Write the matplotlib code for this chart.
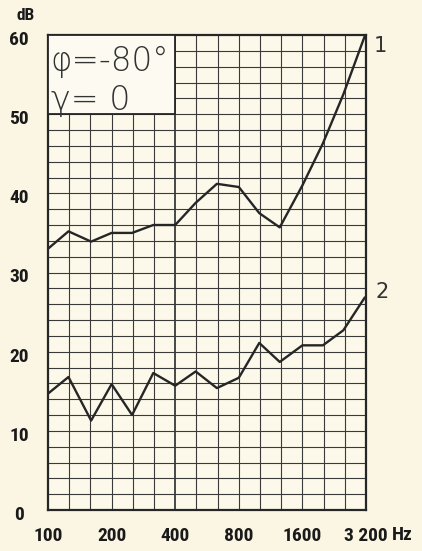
import matplotlib
matplotlib.use('Agg')
import matplotlib.pyplot as plt
from matplotlib import font_manager
from matplotlib.patches import Rectangle
from matplotlib.transforms import ScaledTranslation

# third-octave band centres, Hz
freqs = [100, 125, 160, 200, 250, 315, 400, 500, 630, 800, 1000, 1250, 1600, 2000, 2500, 3150]
curve1 = [33.0, 35.2, 33.9, 35.0, 35.0, 36.0, 36.0, 38.8, 41.2, 40.8, 37.5, 35.7, 41.0, 46.3, 52.5, 59.8]
curve2 = [14.7, 16.8, 11.3, 15.9, 12.0, 17.3, 15.7, 17.5, 15.4, 16.7, 21.1, 18.7, 20.8, 20.8, 22.7, 26.8]
octave_ticks = [100, 200, 400, 800, 1600, 3200]
octave_labels = ['100', '200', '400', '800', '1600', '3 200']
db_ticks = [0, 10, 20, 30, 40, 50, 60]

bg = '#fbf6e3'
ink = '#262626'

# pick a narrow bold face for the numbers if one is installed
names = {f.name for f in font_manager.fontManager.ttflist}
narrow = 'DejaVu Sans'
for cand in ['Liberation Sans Narrow', 'Roboto Condensed', 'Arial Narrow', 'Open Sans Condensed']:
    if cand in names:
        narrow = cand
        break
tickfont = {'family': [narrow, 'DejaVu Sans'], 'weight': 'bold', 'stretch': 'condensed',
            'size': 14 if narrow != 'DejaVu Sans' else 10.5}

fig = plt.figure(figsize=(4.22, 5.51), dpi=100, facecolor=bg)
ax = fig.add_axes([48/422, 41/551, 318/422, 475/551])
ax.set_facecolor('#fcf9ea')

ax.set_xscale('log', base=2)
ax.set_xlim(100, 3200)
ax.set_ylim(0, 60)

# grid: every third octave, every 2 dB
grid_col = '#3a3a3a'
for k in range(1, 15):
    f = 100 * 2 ** (k / 3)
    lw = 1.3 if k == 6 else 0.8
    ax.axvline(f, color=grid_col, lw=lw, zorder=1)
for d in range(2, 60, 2):
    ax.axhline(d, color=grid_col, lw=0.8, zorder=1)

ax.set_xticks(octave_ticks)
ax.set_xticklabels(octave_labels, fontdict=tickfont)
ax.xaxis.set_minor_locator(matplotlib.ticker.NullLocator())
ax.set_yticks(db_ticks)
ax.set_yticklabels([str(v) for v in db_ticks], fontdict=tickfont)
ax.tick_params(length=0, pad=12, colors='#1a1a1a')
ax.tick_params(axis='y', pad=21)
shift = ScaledTranslation(0, -3 / 100, fig.dpi_scale_trans)
for lab in ax.get_yticklabels():
    lab.set_horizontalalignment('center')
    lab.set_transform(lab.get_transform() + shift)
for s in ax.spines.values():
    s.set_color(ink)
    s.set_linewidth(1.6)
fig.text(402 / 422, 1 - 535 / 551, 'Hz', fontdict=tickfont, ha='center', va='center', color='#1a1a1a')

# label box over upper-left corner
ax.add_patch(Rectangle((100, 50), 300, 10, facecolor='#fdfbf1', edgecolor=ink, lw=1.3, zorder=3))
ax.text(103, 55.4, 'φ=-80°', fontsize=23.5, color='#333333', va='baseline', ha='left', zorder=4,
        family='DejaVu Sans', weight='light')
ax.text(103, 50.5, 'γ= 0', fontsize=24, color='#333333', va='baseline', ha='left', zorder=4,
        family='DejaVu Sans', weight='light')

ax.plot(freqs, curve1, color=ink, lw=1.7, zorder=5)
ax.plot(freqs, curve2, color=ink, lw=1.7, zorder=5)
ax.text(1.025, 58.6 / 60, '1', transform=ax.transAxes, fontsize=15, color='#333333', va='center', ha='left')
ax.text(1.03, 27.6 / 60, '2', transform=ax.transAxes, fontsize=15, color='#333333', va='center', ha='left')

fig.text(26 / 422, 1 - 16 / 551, 'dB', family=[narrow, 'DejaVu Sans'], weight='bold', size=12.5,
         ha='center', va='center', color='#1a1a1a')

plt.savefig('out.png', dpi=100, facecolor=bg)
